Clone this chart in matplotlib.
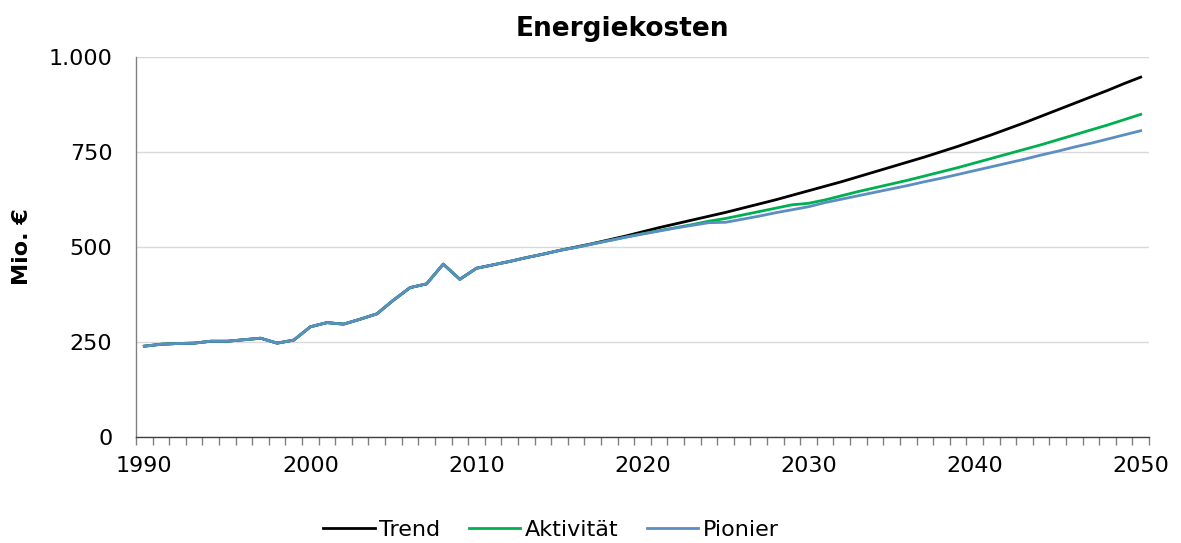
import matplotlib
matplotlib.use("Agg")
import matplotlib.pyplot as plt
from matplotlib.ticker import FixedLocator, FuncFormatter

plt.rcParams['font.family'] = ['DejaVu Sans']

# Historic energy costs (shared by all scenarios), Mio. EUR
hist_years = list(range(1990, 2016))
hist_values = [239, 244, 246, 247, 252, 252, 256, 260, 247, 255,
               290, 301, 297, 310, 324, 360, 393, 403, 455, 415,
               444, 453, 462, 472, 481, 491]

# Scenario projections
proj_years = list(range(2016, 2051))
trend = [500, 509, 519, 529, 540, 551, 561, 571, 581, 591,
         602, 613, 624, 636, 648, 660, 672, 685, 698, 711,
         724, 737, 751, 765, 780, 795, 811, 827, 844, 861,
         878, 895, 912, 930, 947]
aktivitaet = [499, 508, 517, 526, 535, 543, 551, 559, 568, 575,
              584, 593, 602, 611, 615, 624, 635, 646, 656, 666,
              676, 687, 698, 709, 721, 733, 745, 757, 769, 782,
              795, 808, 821, 835, 849]
pionier = [499, 508, 517, 526, 534, 542, 550, 557, 564, 565,
           573, 581, 590, 598, 606, 617, 626, 635, 644, 653,
           662, 672, 681, 691, 701, 711, 721, 731, 742, 752,
           763, 773, 784, 795, 806]

series_names = ["Trend", "Aktivität", "Pionier"]
series_colors = ["#000000", "#00B050", "#5B8EC2"]

y_ticks = [0, 250, 500, 750, 1000]
x_label_years = [1990, 2000, 2010, 2020, 2030, 2040, 2050]

fig = plt.figure(figsize=(11.81, 5.43), dpi=100)
ax = fig.add_axes([136 / 1181, 1 - 437 / 543, (1149 - 136) / 1181, (437 - 57) / 543])

years = hist_years + proj_years
for name, proj, color in zip(series_names, [trend, aktivitaet, pionier], series_colors):
    ax.plot(years, hist_values + proj, color=color, lw=2.0, label=name,
            solid_joinstyle='round')

ax.set_xlim(1989.5, 2050.5)
ax.set_ylim(0, 1000)

# y axis
ax.yaxis.set_major_locator(FixedLocator(y_ticks))
ax.yaxis.set_major_formatter(FuncFormatter(lambda v, p: f"{int(v):,}".replace(",", ".")))
ax.tick_params(axis='y', which='major', length=0, pad=17, labelsize=16, colors='black')
ax.yaxis.grid(True, color='#d9d9d9', lw=1.0)
ax.set_axisbelow(True)

# x axis: labels at category centres, tick marks between categories
ax.xaxis.set_major_locator(FixedLocator(x_label_years))
ax.xaxis.set_minor_locator(FixedLocator([y - 0.5 for y in range(1990, 2052)]))
ax.tick_params(axis='x', which='major', length=0, pad=14, labelsize=16, colors='black')
ax.tick_params(axis='x', which='minor', length=6, width=1.0, color='#808080', direction='out')

for side in ['top', 'right']:
    ax.spines[side].set_visible(False)
ax.spines['left'].set_color('#808080')
ax.spines['bottom'].set_color('#404040')
ax.spines['left'].set_linewidth(1.0)
ax.spines['bottom'].set_linewidth(1.0)

ax.set_ylabel("Mio. €", fontsize=16, fontweight='bold', labelpad=12)

fig.text(622 / 1181, 1 - 29 / 543, "Energiekosten", ha='center', va='center',
         fontsize=19, fontweight='bold')

handles, labels = ax.get_legend_handles_labels()
fig.legend(handles, labels, loc='center', bbox_to_anchor=(551 / 1181, 1 - 530 / 543),
           ncol=3, frameon=False, fontsize=16, handlelength=2.3, handletextpad=0.2,
           columnspacing=1.3)

fig.savefig("out.png", dpi=100)
